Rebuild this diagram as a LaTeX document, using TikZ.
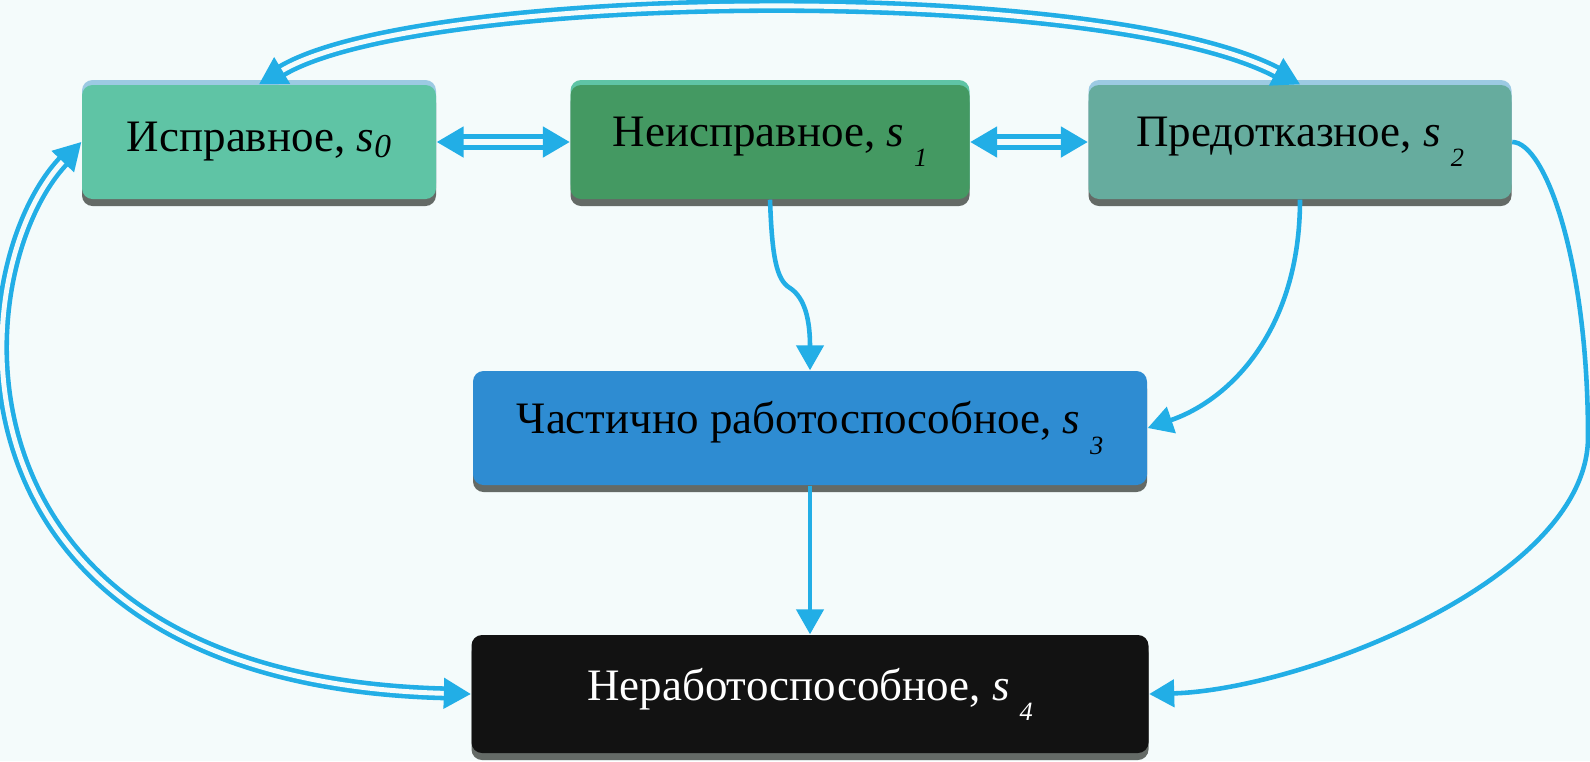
\documentclass[tikz,border=0pt]{standalone}
\usepackage{fontspec}
\setmainfont{Liberation Serif}
\usetikzlibrary{arrows.meta,shadows}
\definecolor{bg}{HTML}{F4FBFB}
\definecolor{c0}{HTML}{5FC4A5}
\definecolor{c1}{HTML}{449962}
\definecolor{c2}{HTML}{66AC9E}
\definecolor{c3}{HTML}{2E8CD2}
\definecolor{c4}{HTML}{121212}
\definecolor{shade}{HTML}{646A66}
\definecolor{edge}{HTML}{9CCAE3}
\definecolor{arrow}{HTML}{22AEE6}
\newcommand{\sz}{\textit{s}\raisebox{-0.12em}{\fontsize{9.5}{10}\selectfont\textit{0}}}
\newcommand{\sn}[1]{\textit{s}\hspace{0.22em}\raisebox{-0.45em}{\fontsize{7.5}{8}\selectfont\textit{#1}}}
\begin{document}
\begin{tikzpicture}[
    box/.style={rounded corners=3pt,minimum height=1.14cm,inner sep=0pt,font=\fontsize{12.8}{15}\selectfont,
        general shadow={shadow yshift=-0.07cm,fill=shade}},
    strip/.style={general shadow={shadow yshift=0.05cm,fill=#1}},
    link/.style={draw=arrow,line width=1.3pt,-{Triangle[length=0.25cm,width=0.27cm]}},
    dbl/.style={draw=arrow,double=bg,line width=1.3pt,double distance=1.4pt,
        {Triangle[length=0.27cm,width=0.3cm]}-{Triangle[length=0.27cm,width=0.3cm]}},
    wide/.style={dbl,line width=1.5pt,double distance=1.8pt}]
    \fill[bg](0,0)rectangle(15.9,-7.61);
    \useasboundingbox(0,0)rectangle(15.9,-7.61);
    \node[box,strip=edge,fill=c0,minimum width=3.54cm](s0)at(2.59,-1.42){Исправное, \sz};
    \node[box,strip=c0,fill=c1,minimum width=3.99cm](s1)at(7.70,-1.42){Неисправное, \sn{1}};
    \node[box,strip=edge,fill=c2,minimum width=4.23cm](s2)at(13.0,-1.42){Предотказное, \sn{2}};
    \node[box,fill=c3,minimum width=6.74cm](s3)at(8.10,-4.28){Частично работоспособное, \sn{3}};
    \node[box,fill=c4,text=white,minimum width=6.77cm,minimum height=1.18cm](s4)at(8.10,-6.94){Неработоспособное, \sn{4}};
    \coordinate(kink)at(7.9,-2.88);
    \coordinate(far)at(15.88,-4.37);
    \draw[wide](s0)--(s1);
    \draw[wide](s1)--(s2);
    \draw[dbl](s0.north)..controls(4.2,0.12)and(11.0,0.2)..(s2.north);
    \draw[dbl](s0.west)..controls(-0.4,-2.7)and(-0.7,-6.8)..(s4.west);
    \draw[link](s1.south)..controls(7.72,-2.55)and(7.76,-2.8)..(kink)..controls(8.05,-2.98)and(8.10,-3.2)..(s3.north);
    \draw[link](s2.south)..controls(13.0,-3.3)and(12.3,-4.0)..(s3.east);
    \draw[link](s3)--(s4);
    \draw[link](s2.east)..controls(15.45,-1.42)and(15.88,-2.6)..(far)..controls(15.88,-5.8)and(13.0,-6.9)..(s4.east);
\end{tikzpicture}
\end{document}
